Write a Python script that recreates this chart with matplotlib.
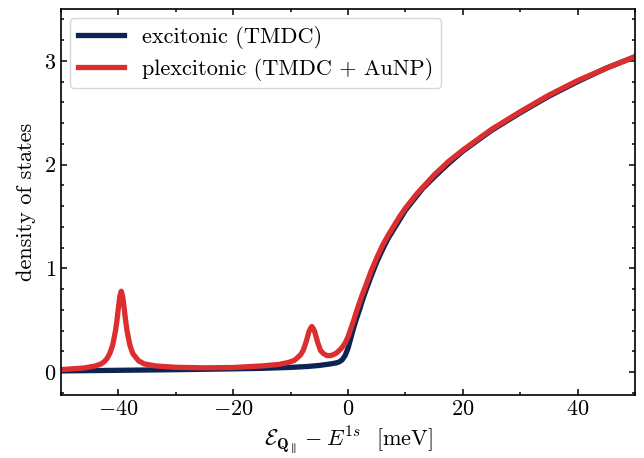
import matplotlib
matplotlib.use('Agg')
import matplotlib.pyplot as plt
from matplotlib.ticker import MultipleLocator

# density of states
x_exc = [-50, -40, -30, -20, -15, -10, -7, -5, -3, -2, -1.5, -1, -0.5, 0, 0.5, 1, 1.5, 2,
         2.5, 3, 4, 5, 6, 7, 8, 9, 10, 11, 12, 13, 15, 17.5, 20, 22.5, 25, 30, 35, 40, 45, 50]
y_exc = [0.012, 0.018, 0.024, 0.032, 0.037, 0.046, 0.055, 0.065, 0.08, 0.09, 0.1, 0.12, 0.16,
         0.23, 0.33, 0.43, 0.52, 0.6, 0.69, 0.77, 0.92, 1.06, 1.18, 1.29, 1.38, 1.47, 1.56,
         1.63, 1.7, 1.77, 1.88, 2.01, 2.13, 2.23, 2.33, 2.5, 2.66, 2.8, 2.93, 3.04]

x_plex = [-50, -46, -44, -43, -42.5, -42, -41.5, -41, -40.5, -40.25, -40, -39.75, -39.5,
          -39.25, -39, -38.75, -38.5, -38, -37.5, -36.5, -35.5, -33.5, -30, -25, -20, -15,
          -12, -10.3, -9.3, -8.3, -7.8, -7.3, -7.05, -6.8, -6.55, -6.3, -6.05, -5.8, -5.55,
          -5.3, -4.8, -4.3, -3.7, -3.0, -2.5, -2, -1.5, -1, -0.5, 0, 0.5, 1, 1.5, 2, 2.5, 3,
          4, 5, 6, 7, 8, 9, 10, 11, 12, 13, 15, 17.5, 20, 22.5, 25, 30, 35, 40, 45, 50]
y_plex = [0.025, 0.04, 0.06, 0.08, 0.1, 0.13, 0.18, 0.26, 0.4, 0.5, 0.62, 0.73, 0.78,
          0.73, 0.62, 0.5, 0.4, 0.26, 0.18, 0.11, 0.08, 0.06, 0.047, 0.042, 0.045, 0.06,
          0.075, 0.095, 0.115, 0.165, 0.21, 0.29, 0.34, 0.39, 0.42, 0.44, 0.42, 0.39, 0.34,
          0.29, 0.21, 0.18, 0.16, 0.16, 0.17, 0.185, 0.21, 0.24, 0.28, 0.34, 0.42, 0.5,
          0.59, 0.67, 0.75, 0.82, 0.97, 1.1, 1.22, 1.32, 1.41, 1.5, 1.58, 1.65, 1.72, 1.78,
          1.9, 2.03, 2.14, 2.24, 2.34, 2.51, 2.67, 2.81, 2.93, 3.04]

x_ticks = [-40, -20, 0, 20, 40]
y_ticks = [0, 1, 2, 3]

plt.rcParams['font.family'] = 'serif'
plt.rcParams['font.serif'] = ['cmr10']
plt.rcParams['mathtext.fontset'] = 'cm'
plt.rcParams['axes.formatter.use_mathtext'] = True
plt.rcParams['font.size'] = 16

fig = plt.figure(figsize=(6.44, 4.58), dpi=100)
ax = fig.add_axes([61 / 644, 1 - 395 / 458, (635 - 61) / 644, (395 - 9) / 458])

ax.plot(x_exc, y_exc, color='#0c2453', lw=3.8, label='excitonic (TMDC)')
ax.plot(x_plex, y_plex, color='#dc2e2f', lw=3.8, label='plexcitonic (TMDC + AuNP)')

ax.set_xlim(-50, 50)
ax.set_ylim(-0.22, 3.5)
ax.set_xticks(x_ticks)
ax.set_yticks(y_ticks)
ax.xaxis.set_minor_locator(MultipleLocator(10))
ax.yaxis.set_minor_locator(MultipleLocator(0.2))
ax.tick_params(which='both', direction='in', top=True, right=True, width=1.1)
ax.tick_params(which='major', length=4)
ax.tick_params(which='minor', length=2.5)
for s in ax.spines.values():
    s.set_linewidth(1.2)

ax.set_xlabel(r'$\mathcal{E}_{\mathbf{Q}_\parallel} - E^{1s}$  [meV]', labelpad=3)
ax.set_ylabel('density of states', labelpad=6)

ax.legend(loc='upper left', handlelength=2.1, borderaxespad=0.4, fancybox=True,
          framealpha=0.8, edgecolor='#cccccc', borderpad=0.35, labelspacing=0.4)

fig.savefig('out.png', dpi=100)
